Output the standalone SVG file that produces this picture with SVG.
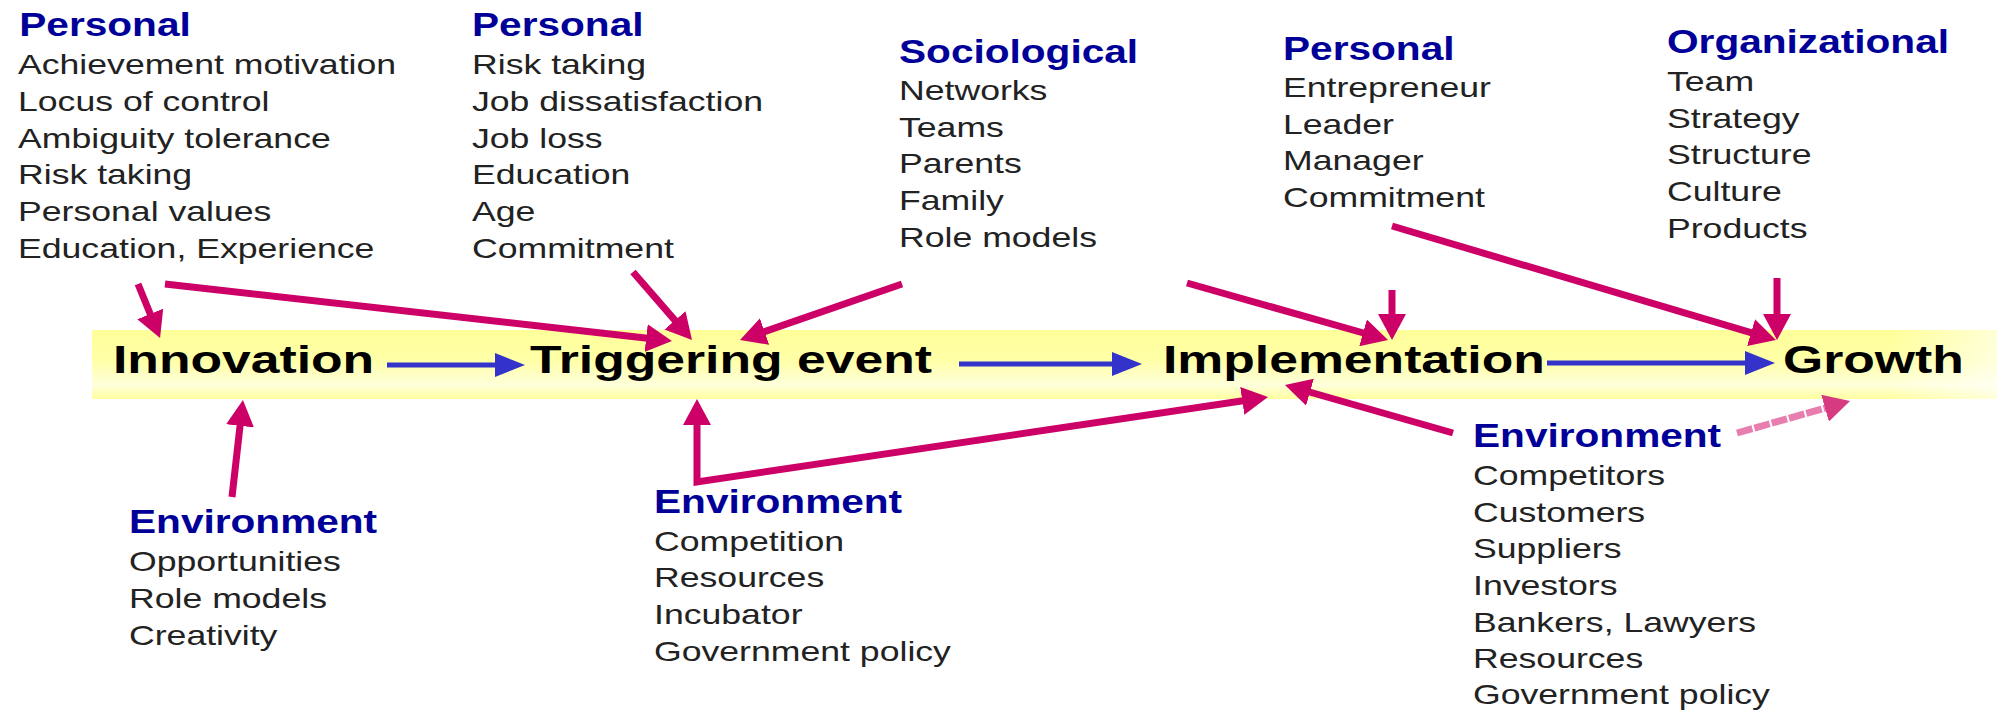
<svg xmlns="http://www.w3.org/2000/svg" width="1997" height="711" viewBox="0 0 1997 711">
<style>
  text { font-family: "Liberation Sans", Arial, sans-serif; }
  .h { font-size: 32.5px; font-weight: bold; fill: #000099; }
  .b { font-size: 28.5px; fill: #222222; }
  .m { font-size: 38px; font-weight: bold; fill: #000000; }
  .mag { fill: none; stroke: #CC0066; stroke-width: 7; marker-end: url(#mh); }
  .blue { fill: none; stroke: #3333CC; stroke-width: 5; marker-end: url(#bh); }
</style>
<defs>
  <linearGradient id="band" x1="0" y1="0" x2="0" y2="1">
    <stop offset="0" stop-color="#FFFF99"/>
    <stop offset="0.45" stop-color="#FFFFA8"/>
    <stop offset="0.8" stop-color="#FFFFDC"/>
    <stop offset="1" stop-color="#FFFF9E"/>
  </linearGradient>
  <linearGradient id="fade" x1="0" y1="0" x2="1" y2="0">
    <stop offset="0" stop-color="#FFFFFF" stop-opacity="0"/>
    <stop offset="1" stop-color="#FFFFFF" stop-opacity="0.6"/>
  </linearGradient>
  <marker id="mh" markerUnits="userSpaceOnUse" markerWidth="26" markerHeight="28" viewBox="0 0 26 28" refX="6" refY="14" orient="auto-start-reverse">
    <path d="M0,0 L26,14 L0,28 z" fill="#CC0066"/>
  </marker>
  <marker id="ph" markerUnits="userSpaceOnUse" markerWidth="26" markerHeight="28" viewBox="0 0 26 28" refX="6" refY="14" orient="auto">
    <path d="M0,0 L26,14 L0,28 z" fill="#D63A80"/>
  </marker>
  <marker id="bh" markerUnits="userSpaceOnUse" markerWidth="30" markerHeight="24" viewBox="0 0 30 24" refX="6" refY="12" orient="auto">
    <path d="M0,0 L30,12 L0,24 z" fill="#3333CC"/>
  </marker>
</defs>

<rect x="0" y="0" width="1997" height="711" fill="#FFFFFF"/>

<g id="band-bar">
  <rect x="92" y="330" width="1905" height="69" fill="url(#band)"/>
  <rect x="1890" y="330" width="107" height="69" fill="url(#fade)"/>
</g>

<g id="innovation"><text class="m" transform="translate(113,373) scale(1.36,1)">Innovation</text></g>
<g id="triggering-event"><text class="m" transform="translate(530,373) scale(1.36,1)">Triggering event</text></g>
<g id="implementation"><text class="m" transform="translate(1163,373) scale(1.36,1)">Implementation</text></g>
<g id="growth"><text class="m" transform="translate(1783,373) scale(1.36,1)">Growth</text></g>

<g id="personal-innovation" transform="translate(18,0) scale(1.25,1)">
  <text class="h" x="1" y="36">Personal</text>
  <text class="b" x="0" y="74">Achievement motivation</text>
  <text class="b" x="0" y="111">Locus of control</text>
  <text class="b" x="0" y="148">Ambiguity tolerance</text>
  <text class="b" x="0" y="184">Risk taking</text>
  <text class="b" x="0" y="221">Personal values</text>
  <text class="b" x="0" y="258">Education, Experience</text>
</g>

<g id="personal-trigger" transform="translate(472,0) scale(1.25,1)">
  <text class="h" x="0" y="36">Personal</text>
  <text class="b" x="0" y="74">Risk taking</text>
  <text class="b" x="0" y="111">Job dissatisfaction</text>
  <text class="b" x="0" y="148">Job loss</text>
  <text class="b" x="0" y="184">Education</text>
  <text class="b" x="0" y="221">Age</text>
  <text class="b" x="0" y="258">Commitment</text>
</g>

<g id="sociological" transform="translate(899,0) scale(1.25,1)">
  <text class="h" x="0" y="63">Sociological</text>
  <text class="b" x="0" y="100">Networks</text>
  <text class="b" x="0" y="137">Teams</text>
  <text class="b" x="0" y="173">Parents</text>
  <text class="b" x="0" y="210">Family</text>
  <text class="b" x="0" y="247">Role models</text>
</g>

<g id="personal-implementation" transform="translate(1283,0) scale(1.25,1)">
  <text class="h" x="0" y="60">Personal</text>
  <text class="b" x="0" y="97">Entrepreneur</text>
  <text class="b" x="0" y="134">Leader</text>
  <text class="b" x="0" y="170">Manager</text>
  <text class="b" x="0" y="207">Commitment</text>
</g>

<g id="organizational" transform="translate(1667,0) scale(1.25,1)">
  <text class="h" x="0" y="53">Organizational</text>
  <text class="b" x="0" y="91">Team</text>
  <text class="b" x="0" y="128">Strategy</text>
  <text class="b" x="0" y="164">Structure</text>
  <text class="b" x="0" y="201">Culture</text>
  <text class="b" x="0" y="238">Products</text>
</g>

<g id="environment-innovation" transform="translate(129,0) scale(1.25,1)">
  <text class="h" x="0" y="533">Environment</text>
  <text class="b" x="0" y="571">Opportunities</text>
  <text class="b" x="0" y="608">Role models</text>
  <text class="b" x="0" y="645">Creativity</text>
</g>

<g id="environment-trigger" transform="translate(654,0) scale(1.25,1)">
  <text class="h" x="0" y="513">Environment</text>
  <text class="b" x="0" y="551">Competition</text>
  <text class="b" x="0" y="587">Resources</text>
  <text class="b" x="0" y="624">Incubator</text>
  <text class="b" x="0" y="661">Government policy</text>
</g>

<g id="environment-growth" transform="translate(1473,0) scale(1.25,1)">
  <text class="h" x="0" y="447">Environment</text>
  <text class="b" x="0" y="485">Competitors</text>
  <text class="b" x="0" y="522">Customers</text>
  <text class="b" x="0" y="558">Suppliers</text>
  <text class="b" x="0" y="595">Investors</text>
  <text class="b" x="0" y="632">Bankers, Lawyers</text>
  <text class="b" x="0" y="668">Resources</text>
  <text class="b" x="0" y="704">Government policy</text>
</g>

<g id="connectors">
  <line class="blue" x1="387" y1="365" x2="501" y2="365"/>
  <line class="blue" x1="959" y1="364" x2="1118" y2="364"/>
  <line class="blue" x1="1547" y1="363" x2="1751" y2="363"/>

  <line class="mag" x1="138" y1="284" x2="152.5" y2="319.5"/>
  <line class="mag" x1="165" y1="284" x2="652.1" y2="338.8"/>
  <line class="mag" x1="633" y1="272" x2="678.9" y2="324.9"/>
  <line class="mag" x1="902" y1="284" x2="758.9" y2="333.5"/>
  <line class="mag" x1="1187" y1="283" x2="1368.8" y2="334.5"/>
  <line class="mag" x1="1392" y1="290" x2="1392" y2="320"/>
  <line class="mag" x1="1392" y1="226" x2="1756.8" y2="334.3"/>
  <line class="mag" x1="1777" y1="278" x2="1777" y2="320"/>
  <line class="mag" x1="232" y1="497" x2="240.7" y2="419.9"/>
  <path class="mag" d="M1248.2,400 L697,482 L697,419" marker-start="url(#mh)"/>
  <line class="mag" x1="1453" y1="433" x2="1304.2" y2="390.5"/>
  <line x1="1737" y1="433" x2="1830.8" y2="406.5" stroke="#E87DB0" stroke-width="7" stroke-dasharray="16 2" marker-end="url(#ph)"/>
</g>
</svg>
